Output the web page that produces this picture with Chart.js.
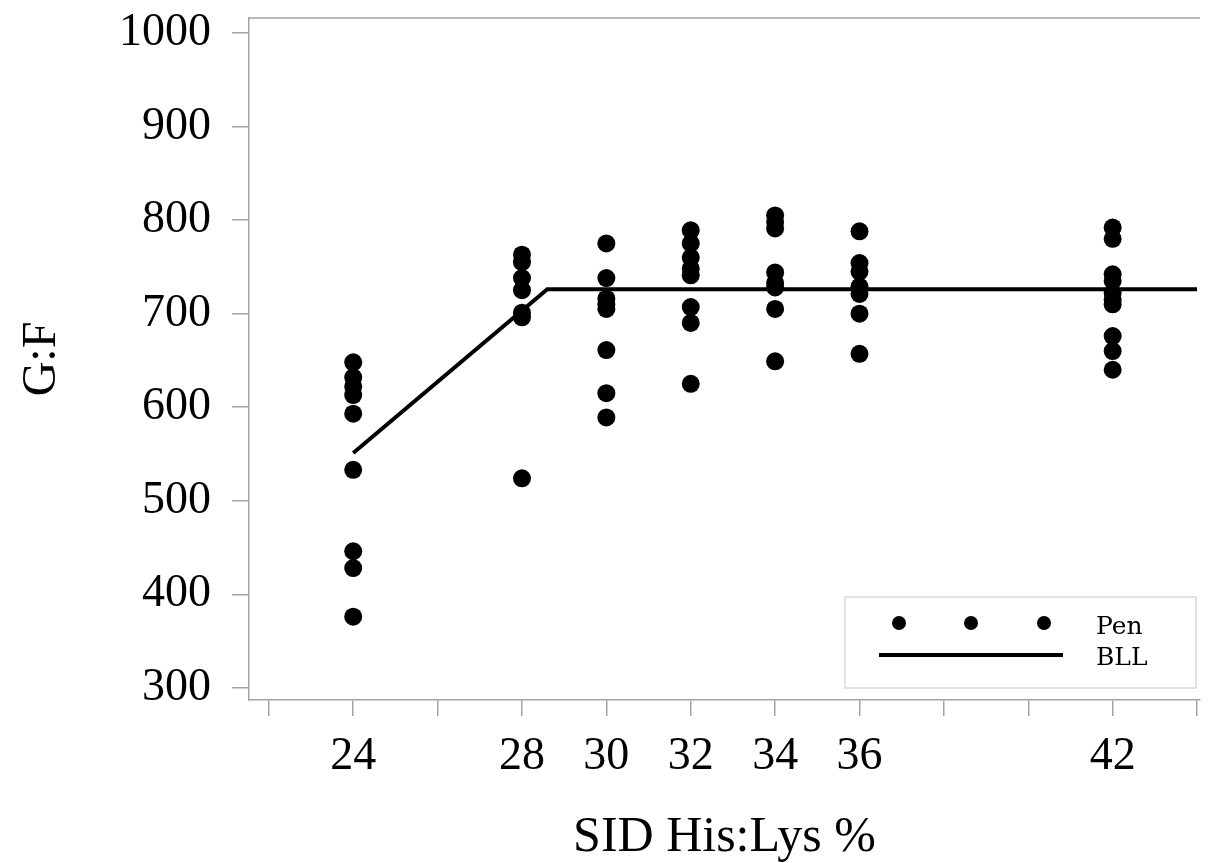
<!DOCTYPE html>
<html>
<head>
<meta charset="utf-8">
<script src="https://cdn.jsdelivr.net/npm/chart.js@4.4.1/dist/chart.umd.min.js"></script>
<style>
  body { margin: 0; background: #fff; }
  #wrap { width: 1209px; height: 863px; }
</style>
</head>
<body>
<div id="wrap"><canvas id="grafico" width="1209" height="863"></canvas></div>
<script>
// niveles de His:Lys y G:F por corral
const niveles = [24, 28, 30, 32, 34, 36, 42];
const gf24 = [648, 632, 622, 613, 593, 533, 446, 428, 376];
const gf28 = [763, 755, 738, 725, 701, 696, 524];
const gf30 = [775, 738, 716, 710, 705, 661, 615, 589];
const gf32 = [789, 775, 760, 748, 741, 707, 690, 625];
const gf34 = [805, 798, 791, 744, 733, 728, 705, 649];
const gf36 = [788, 754, 745, 729, 721, 700, 657];
const gf42 = [792, 780, 742, 735, 722, 715, 710, 676, 660, 640];

// modelo broken-line (BLL)
const bllX = [24, 28.6, 44];
const bllY = [551, 726, 726];

const ticksX = [22, 24, 26, 28, 30, 32, 34, 36, 38, 40, 42, 44];
const etiquetasX = [24, 28, 30, 32, 34, 36, 42];
const ticksY = [300, 400, 500, 600, 700, 800, 900, 1000];

const grupos = [gf24, gf28, gf30, gf32, gf34, gf36, gf42];
const puntosPen = [];
grupos.forEach((g, i) => g.forEach(v => puntosPen.push({ x: niveles[i], y: v })));
const puntosBLL = bllX.map((x, i) => ({ x: x, y: bllY[i] }));

const fuente = 'Liberation Serif, Times New Roman, serif';
const gris = '#a3a3a3';

const marcoYLeyenda = {
    id: 'marcoYLeyenda',
    afterDraw(chart) {
        const { ctx, chartArea } = chart;
        ctx.save();
        ctx.strokeStyle = gris;
        ctx.lineWidth = 1.5;
        ctx.beginPath();
        ctx.moveTo(chartArea.left, chartArea.top);
        ctx.lineTo(chartArea.right, chartArea.top);
        ctx.stroke();

        // leyenda
        ctx.strokeStyle = '#d9d9d9';
        ctx.lineWidth = 1.5;
        ctx.strokeRect(845, 597, 351, 91);
        ctx.fillStyle = '#000';
        [899, 971, 1044].forEach(x => {
            ctx.beginPath();
            ctx.arc(x, 623, 7, 0, Math.PI * 2);
            ctx.fill();
        });
        ctx.strokeStyle = '#000';
        ctx.lineWidth = 4;
        ctx.beginPath();
        ctx.moveTo(879, 655);
        ctx.lineTo(1063, 655);
        ctx.stroke();
        ctx.font = '25px DejaVu Serif';
        ctx.textBaseline = 'alphabetic';
        ctx.fillText('Pen', 1096, 634);
        ctx.fillText('BLL', 1096, 665);
        ctx.restore();
    }
};

new Chart(document.getElementById('grafico').getContext('2d'), {
    type: 'scatter',
    data: {
        datasets: [
            { label: 'Pen', data: puntosPen, backgroundColor: '#000', borderWidth: 0, pointRadius: 9, pointHoverRadius: 9 },
            { label: 'BLL', data: puntosBLL, type: 'line', showLine: true, borderColor: '#000', borderWidth: 4, pointRadius: 0, fill: false, tension: 0 }
        ]
    },
    options: {
        responsive: false,
        animation: false,
        layout: { padding: { top: 18, right: 9, left: 0, bottom: 0 } },
        plugins: { legend: { display: false }, tooltip: { enabled: false } },
        scales: {
            x: {
                type: 'linear',
                min: 21.53,
                max: 44.07,
                afterBuildTicks: s => { s.ticks = ticksX.map(v => ({ value: v })); },
                afterFit: s => { s.height = 163; s.paddingLeft = 0; s.paddingRight = 0; },
                border: { color: gris, width: 1.5 },
                grid: { drawOnChartArea: false, drawTicks: true, tickLength: 16, color: gris, lineWidth: 1.5 },
                ticks: {
                    autoSkip: false,
                    maxRotation: 0,
                    padding: 13,
                    color: '#000',
                    font: { family: fuente, size: 46 },
                    callback: v => etiquetasX.includes(v) ? String(v) : ''
                },
                title: { display: true, text: 'SID His:Lys %', color: '#000', font: { family: fuente, size: 50, lineHeight: 1 }, padding: { top: 0, bottom: 0 } }
            },
            y: {
                min: 287,
                max: 1016,
                afterBuildTicks: s => { s.ticks = ticksY.map(v => ({ value: v })); },
                afterFit: s => { s.width = 249; s.paddingTop = 0; s.paddingBottom = 0; },
                border: { color: gris, width: 1.5 },
                grid: { drawOnChartArea: false, drawTicks: true, tickLength: 17, color: gris, lineWidth: 1.5 },
                ticks: {
                    padding: 21,
                    color: '#000',
                    font: { family: fuente, size: 46 },
                    callback: v => String(v)
                },
                title: { display: true, text: 'G:F', color: '#000', font: { family: fuente, size: 48, lineHeight: 1 }, padding: { top: 18, bottom: 0 } }
            }
        }
    },
    plugins: [marcoYLeyenda]
});
</script>
</body>
</html>
